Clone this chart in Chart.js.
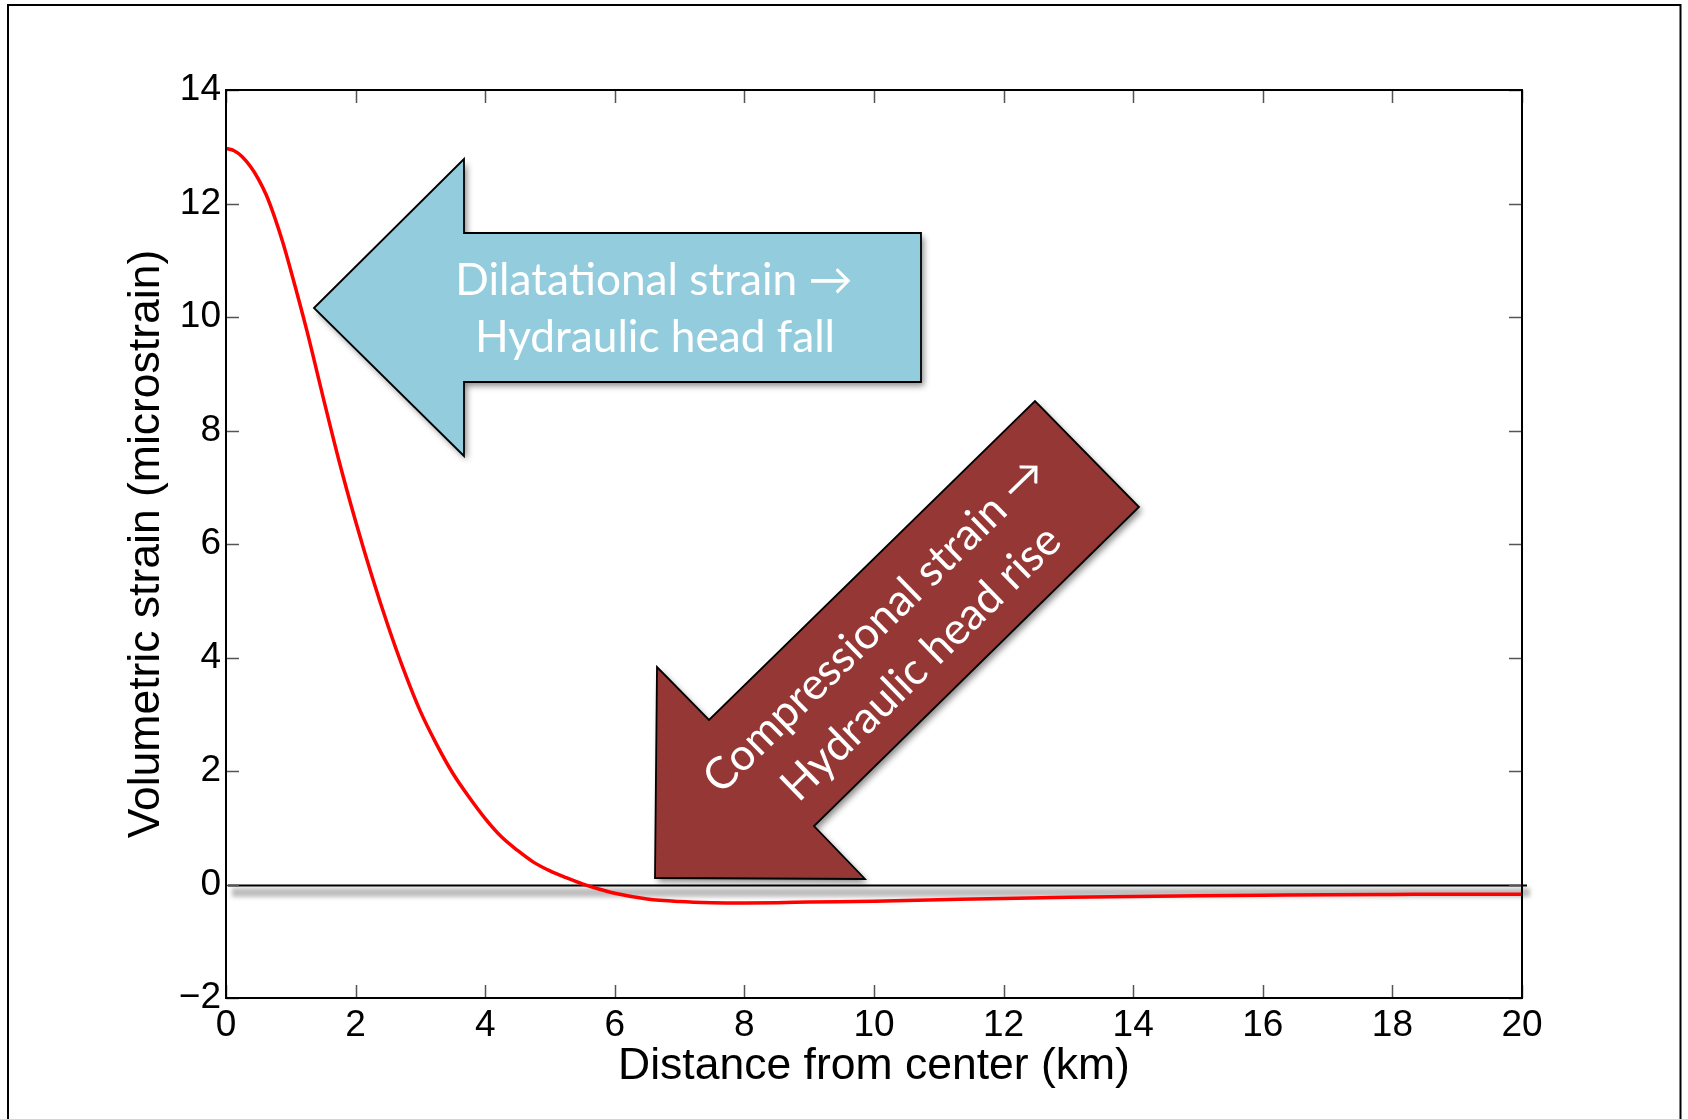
<!DOCTYPE html>
<html>
<head>
<meta charset="utf-8">
<title>Volumetric strain vs distance from center</title>
<script src="https://cdn.jsdelivr.net/npm/chart.js@4.4.1/dist/chart.umd.min.js"></script>
<style>
  html, body { margin: 0; padding: 0; background: #fff; }
  #strainChart { display: block; }
</style>
</head>
<body>
<canvas id="strainChart" width="1688" height="1119"></canvas>
<script>
// values
var distanceKm = [0, 0.125, 0.25, 0.375, 0.5, 0.625, 0.75, 0.875, 1, 1.25, 1.5, 1.75, 2, 2.25, 2.5, 2.75, 3, 3.25, 3.5, 3.75,
                  4, 4.25, 4.5, 4.75, 5, 5.25, 5.5, 5.75, 6, 6.5, 7, 7.5, 8, 8.5, 9, 10,
                  11, 12, 13, 14, 15, 16, 17, 18, 19, 20];
var strainMicro = [12.97, 12.93, 12.825, 12.655, 12.43, 12.14, 11.76, 11.32, 10.82, 9.75, 8.58, 7.44, 6.4, 5.44, 4.56, 3.76, 3.05, 2.47, 1.96, 1.54,
                   1.16, 0.84, 0.6, 0.39, 0.24, 0.12, 0.01, -0.08, -0.155, -0.255, -0.3, -0.32, -0.325, -0.32, -0.31, -0.295,
                   -0.27, -0.245, -0.225, -0.21, -0.2, -0.19, -0.18, -0.175, -0.17, -0.17];
var xTickValues = [0, 2, 4, 6, 8, 10, 12, 14, 16, 18, 20];
var yTickValues = [-2, 0, 2, 4, 6, 8, 10, 12, 14];

var xTitle = "Distance from center (km)";
var yTitle = "Volumetric strain (microstrain)";
var blueLines = ["Dilatational strain \u2192", "Hydraulic head fall"];
var redLines = ["Compressional strain \u2192", "Hydraulic head rise"];

var axisFont = "'Liberation Sans', Arial, Helvetica, sans-serif";
var noteFont = "Lato, 'Open Sans', sans-serif";

function drawArrow(ctx, pts, fill) {
  ctx.save();
  ctx.beginPath();
  pts.forEach(function (p, i) {
    if (i === 0) ctx.moveTo(p[0], p[1]); else ctx.lineTo(p[0], p[1]);
  });
  ctx.closePath();
  ctx.shadowColor = "rgba(0,0,0,0.45)";
  ctx.shadowBlur = 6;
  ctx.shadowOffsetX = 3;
  ctx.shadowOffsetY = 4;
  ctx.fillStyle = fill;
  ctx.fill();
  ctx.shadowColor = "transparent";
  ctx.lineWidth = 1.8;
  ctx.lineJoin = "miter";
  ctx.strokeStyle = "#000";
  ctx.stroke();
  ctx.restore();
}

var figureExtras = {
  id: "figureExtras",
  beforeDraw: function (chart) {
    var ctx = chart.ctx;
    ctx.save();
    ctx.fillStyle = "#fff";
    ctx.fillRect(0, 0, chart.width, chart.height);
    // outer figure frame (bottom edge is off the page)
    ctx.strokeStyle = "#000";
    ctx.lineWidth = 2;
    ctx.beginPath();
    ctx.moveTo(8, 1130);
    ctx.lineTo(8, 5);
    ctx.lineTo(1680.5, 5);
    ctx.lineTo(1680.5, 1130);
    ctx.stroke();
    ctx.restore();
  },
  beforeDatasetsDraw: function (chart) {
    // zero reference line with its soft grey shadow
    var ctx = chart.ctx, a = chart.chartArea;
    var y0 = chart.scales.y.getPixelForValue(0) + 1;
    ctx.save();
    ctx.filter = "blur(2px)";
    ctx.strokeStyle = "rgba(0,0,0,0.26)";
    ctx.lineWidth = 9;
    ctx.beginPath();
    ctx.moveTo(a.left + 6, y0 + 7);
    ctx.lineTo(a.right + 8, y0 + 7);
    ctx.stroke();
    ctx.filter = "none";
    ctx.strokeStyle = "#000";
    ctx.lineWidth = 1.8;
    ctx.beginPath();
    ctx.moveTo(a.left + 2, y0);
    ctx.lineTo(a.right + 5, y0);
    ctx.stroke();
    ctx.restore();
  },
  afterDatasetsDraw: function (chart) {
    // box and inward ticks on all four sides
    var ctx = chart.ctx, a = chart.chartArea;
    var sx = chart.scales.x, sy = chart.scales.y;
    var len = 13;
    ctx.save();
    ctx.strokeStyle = "#555";
    ctx.lineWidth = 1.5;
    ctx.beginPath();
    xTickValues.forEach(function (v) {
      var px = Math.round(sx.getPixelForValue(v)) + 0.5;
      ctx.moveTo(px, a.bottom); ctx.lineTo(px, a.bottom - len);
      ctx.moveTo(px, a.top); ctx.lineTo(px, a.top + len);
    });
    yTickValues.forEach(function (v) {
      var py = Math.round(sy.getPixelForValue(v)) + 0.5;
      ctx.moveTo(a.left, py); ctx.lineTo(a.left + len, py);
      ctx.moveTo(a.right, py); ctx.lineTo(a.right - len, py);
    });
    ctx.stroke();
    ctx.strokeStyle = "#000";
    ctx.lineWidth = 2;
    ctx.strokeRect(a.left, a.top, a.right - a.left, a.bottom - a.top);
    ctx.restore();
  },
  afterDraw: function (chart) {
    var ctx = chart.ctx;
    drawArrow(ctx, [[314, 308], [464, 159], [464, 233], [921, 233], [921, 382], [464, 382], [464, 456]], "#93cddd");
    drawArrow(ctx, [[655, 878], [657, 667], [709, 720], [1035, 401], [1139, 507], [814, 826], [865, 879]], "#953735");

    // size the note text so the first line matches the original width
    ctx.save();
    ctx.font = "44px " + noteFont;
    var size = 44 * 398 / ctx.measureText(blueLines[0]).width;
    ctx.font = size.toFixed(1) + "px " + noteFont;
    ctx.fillStyle = "#fff";
    ctx.textAlign = "center";
    ctx.textBaseline = "alphabetic";
    ctx.fillText(blueLines[0], 654, 295);
    ctx.fillText(blueLines[1], 655, 352);

    ctx.translate(898, 644);
    ctx.rotate(-44.4 * Math.PI / 180);
    ctx.textBaseline = "middle";
    ctx.fillText(redLines[0], -3, -30);
    ctx.fillText(redLines[1], 3, 30);
    ctx.restore();
  }
};

document.addEventListener("DOMContentLoaded", function () {
  var points = distanceKm.map(function (d, i) {
    return { x: d, y: strainMicro[i] };
  });

  var ctx = document.getElementById("strainChart").getContext("2d");
  var strainChart = new Chart(ctx, {
    type: "line",
    data: {
      datasets: [{
        data: points,
        borderColor: "#ff0000",
        borderWidth: 3.5,
        pointRadius: 0,
        fill: false,
        cubicInterpolationMode: "monotone"
      }]
    },
    options: {
      responsive: false,
      animation: false,
      devicePixelRatio: 1,
      layout: { padding: { left: 0, top: 90, right: 166, bottom: 0 } },
      plugins: {
        legend: { display: false },
        tooltip: { enabled: false }
      },
      scales: {
        x: {
          type: "linear",
          min: 0,
          max: 20,
          afterBuildTicks: function (scale) {
            scale.ticks = xTickValues.map(function (v) { return { value: v }; });
          },
          afterFit: function (scale) { scale.height = 121; },
          grid: { display: false, drawTicks: false },
          border: { display: false },
          ticks: {
            color: "#000",
            padding: 6,
            maxRotation: 0,
            autoSkip: false,
            font: { family: axisFont, size: 37 }
          },
          title: {
            display: true,
            text: xTitle,
            color: "#000",
            font: { family: axisFont, size: 44.5 },
            padding: { top: 0, bottom: 26 }
          }
        },
        y: {
          type: "linear",
          min: -2,
          max: 14,
          afterBuildTicks: function (scale) {
            scale.ticks = yTickValues.map(function (v) { return { value: v }; });
          },
          afterFit: function (scale) { scale.width = 226; },
          grid: { display: false, drawTicks: false },
          border: { display: false },
          ticks: {
            color: "#000",
            padding: 5,
            autoSkip: false,
            font: { family: axisFont, size: 37 },
            callback: function (value) {
              return value < 0 ? "\u2212" + Math.abs(value) : String(value);
            }
          },
          title: {
            display: true,
            text: yTitle,
            color: "#000",
            font: { family: axisFont, size: 44.5 },
            padding: { top: 120, bottom: 0 }
          }
        }
      }
    },
    plugins: [figureExtras]
  });
});
</script>
</body>
</html>
